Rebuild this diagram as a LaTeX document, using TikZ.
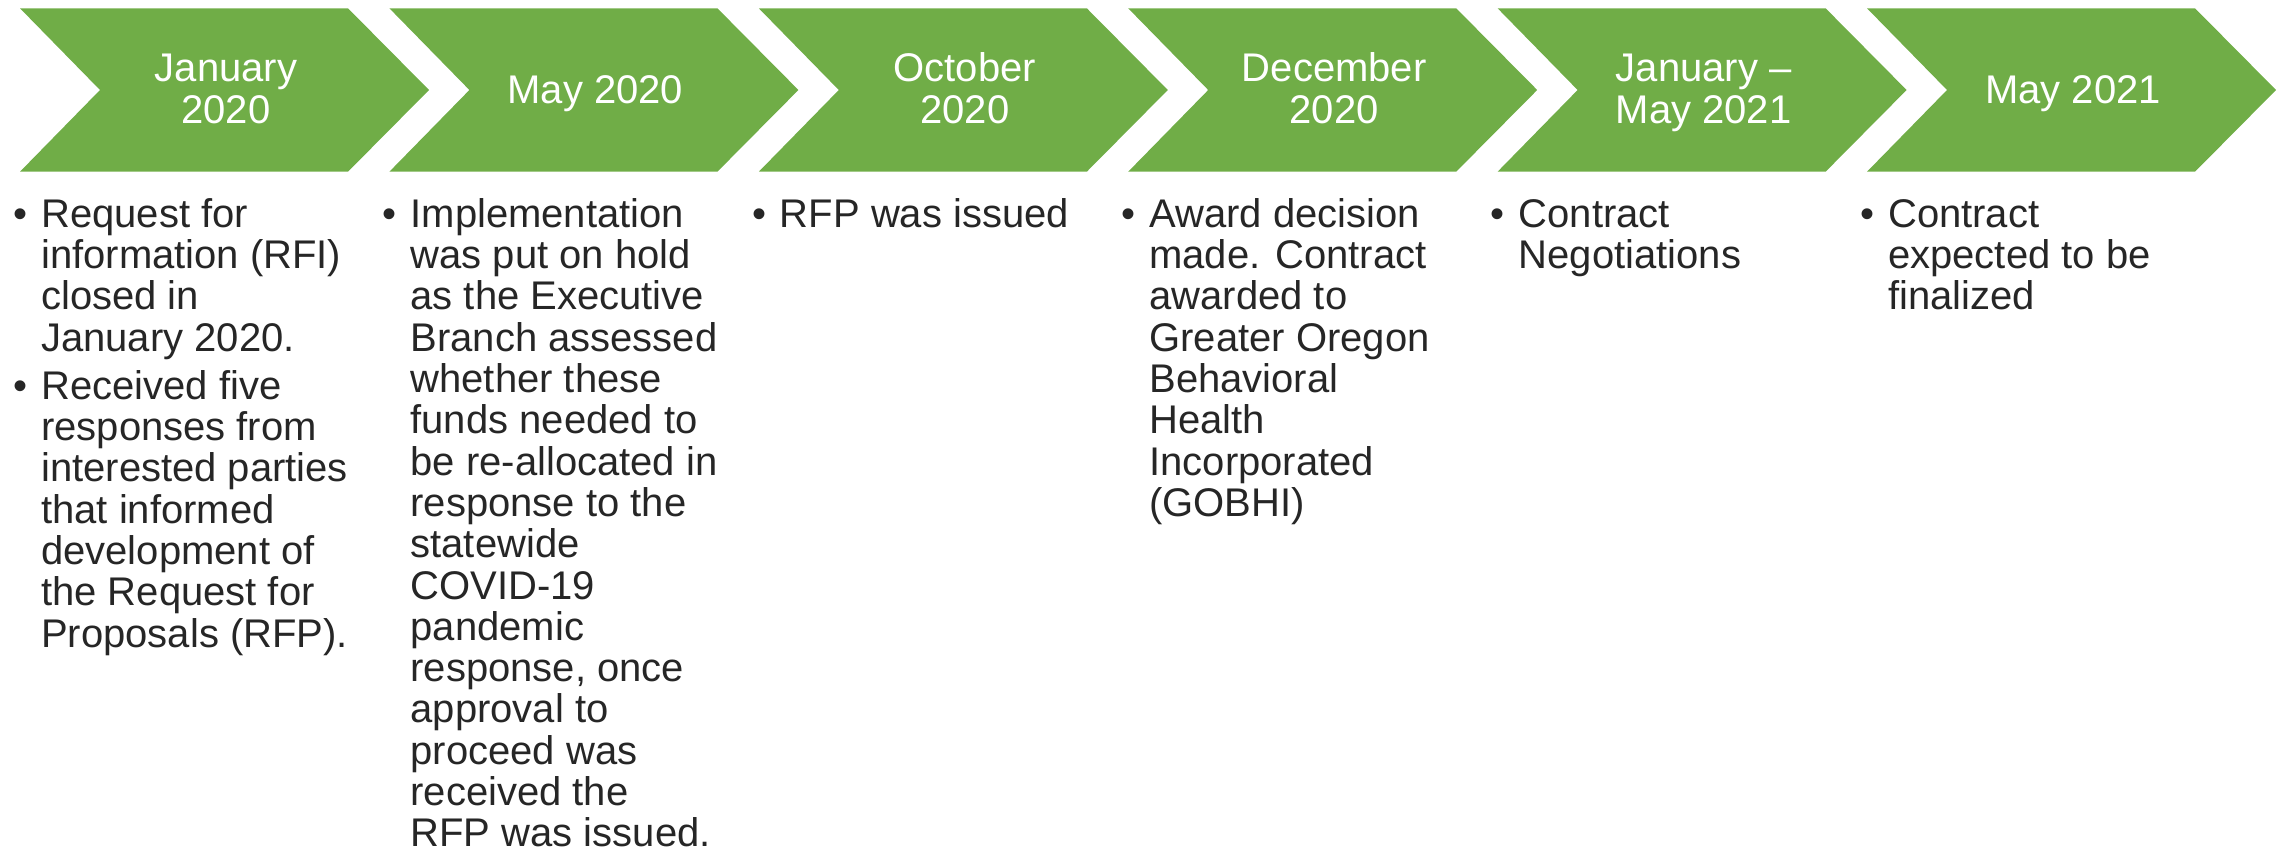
\documentclass[tikz,border=0pt]{standalone}
\usepackage{fontspec}
\setmainfont{Liberation Sans}
\definecolor{chev}{HTML}{70AD47}
\definecolor{bodytxt}{HTML}{262626}
\newcommand{\chevshape}[1]{%
  \fill[chev] (#1,8.3) -- ++(328,0) -- ++(81,81.7) -- ++(-81,81.7) -- ++(-328,0) -- ++(80,-81.7) -- cycle;}
\newcommand{\twoline}[2]{\vtop{\baselineskip=41.6pt\lineskiplimit=-100pt\halign{\hfil##\hfil\cr#1\cr#2\cr}}}
\newcommand{\bitem}[1]{\hbox{\makebox[28pt][l]{•}#1}}
\newcommand{\bcont}[1]{\hbox{\hskip28pt #1}}
\newcommand{\bgap}{\vskip6.7pt}
\newcommand{\bcol}[1]{\vtop{\baselineskip=41.3pt\lineskiplimit=-100pt #1}}
\tikzset{
  chevtxt/.style={inner sep=0pt, text=white, font=\fontsize{40}{41.6}\selectfont, anchor=base},
  bodycol/.style={inner sep=0pt, text=bodytxt, font=\fontsize{40}{41.3}\selectfont, anchor=base west}
}
\begin{document}
\begin{tikzpicture}[x=1pt,y=-1pt]
\useasboundingbox (0,0) rectangle (2282,850);
\chevshape{20}
\chevshape{389.4}
\chevshape{758.8}
\chevshape{1128.2}
\chevshape{1497.6}
\chevshape{1867}
\node[chevtxt] (c1) at (226,81.7) {\twoline{January}{2020}};
\node[chevtxt] (c2) at (595.4,103.3) {May 2020};
\node[chevtxt] (c3) at (964.8,81.7) {\twoline{October}{2020}};
\node[chevtxt] (c4) at (1334.2,81.7) {\twoline{December}{2020}};
\node[chevtxt] (c5) at (1703.6,81.7) {\twoline{January –}{May 2021}};
\node[chevtxt] (c6) at (2073,103.3) {May 2021};
\node[bodycol] (d1) at (13,227.3) {\bcol{%
  \bitem{Request for}\bcont{information (RFI)}\bcont{closed in}\bcont{January 2020.}\bgap
  \bitem{Received five}\bcont{responses from}\bcont{interested parties}\bcont{that informed}\bcont{development of}\bcont{the Request for}\bcont{Proposals (RFP).}}};
\node[bodycol] (d2) at (382.4,227.3) {\bcol{%
  \bitem{Implementation}\bcont{was put on hold}\bcont{as the Executive}\bcont{Branch assessed}\bcont{whether these}\bcont{funds needed to}\bcont{be re-allocated in}\bcont{response to the}\bcont{statewide}\bcont{COVID-19}\bcont{pandemic}\bcont{response, once}\bcont{approval to}\bcont{proceed was}\bcont{received the}\bcont{RFP was issued.}}};
\node[bodycol] (d3) at (751.8,227.3) {\bcol{\bitem{RFP was issued}}};
\node[bodycol] (d4) at (1121.2,227.3) {\bcol{%
  \bitem{Award decision}\bcont{made. Contract}\bcont{awarded to}\bcont{Greater Oregon}\bcont{Behavioral}\bcont{Health}\bcont{Incorporated}\bcont{(GOBHI)}}};
\node[bodycol] (d5) at (1490.6,227.3) {\bcol{\bitem{Contract}\bcont{Negotiations}}};
\node[bodycol] (d6) at (1860,227.3) {\bcol{\bitem{Contract}\bcont{expected to be}\bcont{finalized}}};
\end{tikzpicture}
\end{document}
